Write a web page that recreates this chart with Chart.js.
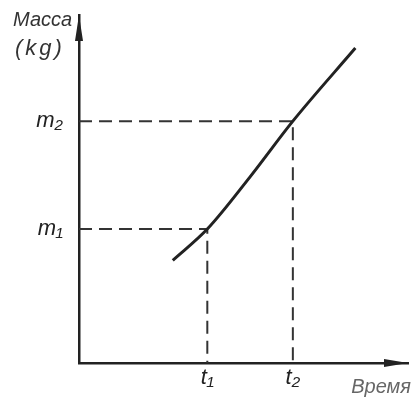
<!DOCTYPE html>
<html>
<head>
<meta charset="utf-8">
<script src="https://cdn.jsdelivr.net/npm/chart.js@4.4.1/dist/chart.umd.min.js"></script>
<style>
html, body { margin: 0; padding: 0; background: #fff; }
#wrap { width: 413px; height: 403px; }
</style>
</head>
<body>
<div id="wrap"><canvas id="massChart"></canvas></div>
<script>
// values (arbitrary units, axes 0..10)
const timeTicks = [3.9, 6.5];
const timeTickLabels = ['t₁', 't₂'];
const massTicks = [3.85, 6.95];
const massTickLabels = ['m₁', 'm₂'];
const curveTime = [2.85, 3.9, 5.2, 6.5, 8.4];
const curveMass = [2.95, 3.85, 5.35, 6.95, 9.05];
const yTitle = ['Масса', '(kg)'];
const xTitle = 'Время';

const ink = '#222';
const font = { family: "'Liberation Sans', 'DejaVu Sans', sans-serif", style: 'italic', size: 22 };

function dropLines(t, m) {
    return [{ x: 0, y: m }, { x: t, y: m }, { x: t, y: 0 }];
}

const curve = curveTime.map((t, i) => ({ x: t, y: curveMass[i] }));

const arrowsAndTitles = {
    id: 'arrowsAndTitles',
    afterDraw(chart) {
        const c = chart.ctx;
        const a = chart.chartArea;
        c.save();
        c.fillStyle = ink;
        // y arrow
        c.beginPath();
        c.moveTo(a.left, a.top);
        c.lineTo(a.left - 4, a.top + 26);
        c.lineTo(a.left + 4, a.top + 26);
        c.closePath();
        c.fill();
        // x arrow
        c.beginPath();
        c.moveTo(a.right, a.bottom);
        c.lineTo(a.right - 24, a.bottom - 4);
        c.lineTo(a.right - 24, a.bottom + 4);
        c.closePath();
        c.fill();

        c.font = "italic 20px 'Liberation Sans', sans-serif";
        c.fillStyle = '#333';
        c.textAlign = 'left';
        c.textBaseline = 'alphabetic';
        c.fillText(yTitle[0], 13, 26);
        c.font = "italic 22px 'Liberation Sans', sans-serif";
        c.letterSpacing = '3px';
        c.fillText(yTitle[1], 15, 55);
        c.letterSpacing = '0px';

        c.font = "italic 20px 'Liberation Sans', sans-serif";
        c.fillStyle = '#666';
        c.textAlign = 'right';
        c.fillText(xTitle, 411, 393);
        c.restore();
    }
};

new Chart(document.getElementById('massChart'), {
    type: 'scatter',
    data: {
        datasets: [
            {
                data: curve,
                showLine: true,
                borderColor: ink,
                borderWidth: 3,
                cubicInterpolationMode: 'monotone',
                pointRadius: 0,
                clip: false
            },
            {
                data: dropLines(timeTicks[0], massTicks[0]),
                showLine: true,
                borderColor: '#333',
                borderWidth: 2,
                borderDash: [13, 7],
                pointRadius: 0
            },
            {
                data: dropLines(timeTicks[1], massTicks[1]),
                showLine: true,
                borderColor: '#333',
                borderWidth: 2,
                borderDash: [13, 7],
                pointRadius: 0
            }
        ]
    },
    options: {
        responsive: true,
        maintainAspectRatio: false,
        animation: false,
        layout: { padding: { top: 15, right: 5, left: 0, bottom: 0 } },
        plugins: { legend: { display: false }, tooltip: { enabled: false } },
        scales: {
            x: {
                type: 'linear',
                min: 0,
                max: 10,
                grid: { display: false, drawTicks: false },
                border: { display: true, color: ink, width: 2.5 },
                afterBuildTicks: s => { s.ticks = timeTicks.map(v => ({ value: v })); },
                afterFit: s => { s.height = 40; s.paddingLeft = 0; s.paddingRight = 0; },
                ticks: {
                    padding: 2,
                    color: ink,
                    font: font,
                    autoSkip: false,
                    maxRotation: 0,
                    callback: v => timeTickLabels[timeTicks.indexOf(v)]
                }
            },
            y: {
                type: 'linear',
                min: 0,
                max: 10,
                grid: { display: false, drawTicks: false },
                border: { display: true, color: ink, width: 2.5 },
                afterBuildTicks: s => { s.ticks = massTicks.map(v => ({ value: v })); },
                afterFit: s => { s.width = 79; s.paddingTop = 0; s.paddingBottom = 0; },
                ticks: {
                    padding: 16,
                    color: ink,
                    font: font,
                    autoSkip: false,
                    callback: v => massTickLabels[massTicks.indexOf(v)]
                }
            }
        }
    },
    plugins: [arrowsAndTitles]
});
</script>
</body>
</html>
